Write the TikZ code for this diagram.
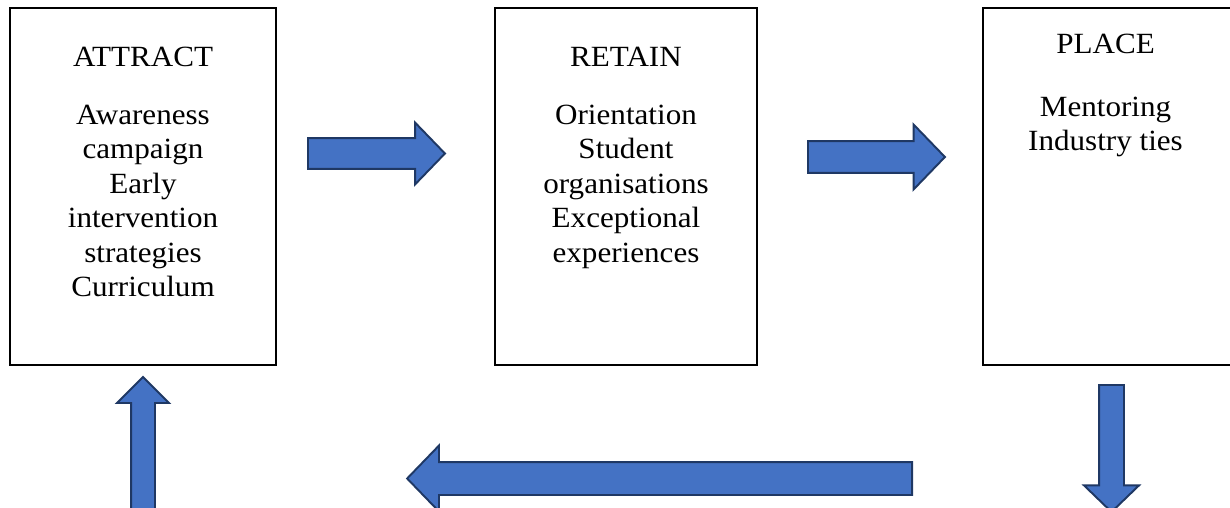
\documentclass[tikz,border=0pt]{standalone}
\usepackage{fontspec}
\setmainfont{Liberation Serif}[FakeStretch=1.06]
\usetikzlibrary{shapes.arrows,positioning}
\definecolor{arrowfill}{HTML}{4472C4}
\definecolor{arrowline}{HTML}{1F3864}
\tikzset{
  stage/.style={draw, line width=1.1pt, minimum height=7.14cm, inner sep=0pt},
  stagetext/.style={align=center, inner sep=0pt,
                    font=\fontsize{16.7}{19.6}\selectfont},
  blockarrow/.style={single arrow, draw=arrowline, fill=arrowfill,
                     line width=1.1pt, inner xsep=0pt, single arrow tip angle=92},
}

\begin{document}
\begin{tikzpicture}[x=0.02cm, y=-0.02cm]

\useasboundingbox (0,0) rectangle (1230,507);
\clip (0,0) rectangle (1230,507);

% the three stages
\node[stage, minimum width=5.32cm] (attract) at (143,186.5) {};
\node[stage, minimum width=5.24cm] (retain) at (626,186.5) {};
\node[stage, minimum width=4.96cm] (place) at (1107,186.5) {};

\node[stagetext, below=0.79cm of attract.north] (attract-txt)
  {ATTRACT\\[13.4pt]Awareness\\campaign\\Early\\intervention\\strategies\\Curriculum};
\node[stagetext, below=0.79cm of retain.north] (retain-txt)
  {RETAIN\\[13.4pt]Orientation\\Student\\organisations\\Exceptional\\experiences};
\node[stagetext, below=0.53cm of place.north, xshift=-0.03cm] (place-txt)
  {PLACE\\[16.3pt]Mentoring\\Industry ties};

% block arrows between the stages
\node[blockarrow, minimum height=2.74cm, inner ysep=0.29cm,
      single arrow head extend=0.31cm, anchor=tail] (toretain) at (307,153.5) {};
\node[blockarrow, minimum height=2.74cm, inner ysep=0.3cm,
      single arrow head extend=0.33cm, anchor=tail] (toplace) at (807,157) {};
\node[blockarrow, minimum height=2.54cm, inner ysep=0.23cm,
      single arrow head extend=0.3cm, rotate=-90, anchor=tail] (down) at (1111.5,384) {};
\node[blockarrow, minimum height=10.1cm, inner ysep=0.31cm,
      single arrow head extend=0.33cm, shape border rotate=180, anchor=tail] (back) at (913,478.5) {};
\node[blockarrow, minimum height=2.84cm, inner ysep=0.22cm,
      single arrow head extend=0.28cm, single arrow tip angle=90,
      rotate=90, anchor=tail] (up) at (143,520) {};

\end{tikzpicture}
\end{document}
